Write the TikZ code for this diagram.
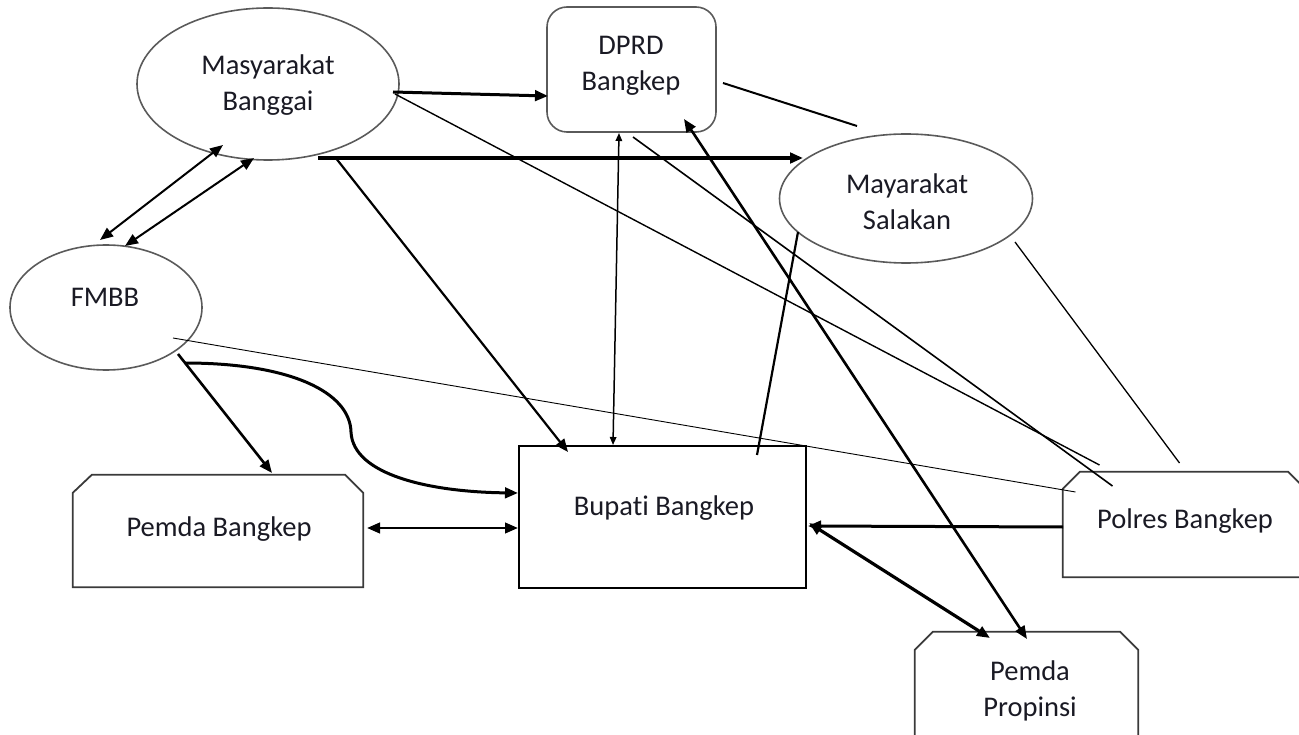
\documentclass[tikz,border=0pt]{standalone}
\usepackage{fontspec}
\setmainfont{Carlito}[RawFeature=-liga]
\usetikzlibrary{shapes.geometric,arrows.meta}
\definecolor{txt}{HTML}{1A1A24}
\definecolor{shapeline}{HTML}{5A5A5A}
\definecolor{boxline}{HTML}{3A3A3A}
\begin{document}
\begin{tikzpicture}[x=1pt,y=-1pt,
  ell/.style={draw=shapeline, line width=1.6pt, ellipse, inner sep=0pt},
  frame/.style={inner sep=0pt, draw=none},
  outline/.style={draw=boxline, line width=1.8pt, line join=miter},
  lbl/.style={text=txt, align=center, font=\fontsize{28.5}{36}\selectfont, inner sep=0pt},
  con/.style={draw=black},
  tip/.style={-{Triangle[length=13pt,width=10.5pt]}},
  dtip/.style={{Triangle[length=13pt,width=10.5pt]}-{Triangle[length=13pt,width=10.5pt]}},
  stip/.style={{Triangle[length=8pt,width=6.5pt]}-{Triangle[length=8pt,width=6.5pt]}}
]
\useasboundingbox (0,0) rectangle (1299,735);
\clip (0,0) rectangle (1299,735);

% shapes
\node[ell, minimum width=262pt, minimum height=152pt] (mb) at (268,84) {};
\node[draw=shapeline, line width=1.6pt, rounded corners=20pt, minimum width=169pt, minimum height=125pt] (dprd) at (631.5,69.5) {};
\node[ell, minimum width=253pt, minimum height=129pt] (ms) at (906,198.5) {};
\node[ell, minimum width=192pt, minimum height=125pt] (fmbb) at (106,307.5) {};
\node[draw=black, line width=2pt, minimum width=287pt, minimum height=142pt] (bup) at (662.5,517) {};

\node[frame, minimum width=290pt, minimum height=112pt] (pb) at (218,531) {};
\draw[outline] (pb.south west) -- ([shift={(0,18)}]pb.north west) -- ([shift={(19,0)}]pb.north west)
  -- ([shift={(-18,0)}]pb.north east) -- ([shift={(0,18)}]pb.north east) -- (pb.south east) -- cycle;

\node[frame, minimum width=242pt, minimum height=105pt] (pol) at (1184,524.5) {};
\draw[outline] (pol.south west) -- ([shift={(0,17)}]pol.north west) -- ([shift={(17,0)}]pol.north west)
  -- ([shift={(-17,0)}]pol.north east) -- ([shift={(0,17)}]pol.north east) -- (pol.south east) -- cycle;

\node[frame, minimum width=223pt, minimum height=116pt] (pp) at (1026.5,690) {};
\draw[outline] (pp.south west) -- ([shift={(0,18)}]pp.north west) -- ([shift={(18,0)}]pp.north west)
  -- ([shift={(-18,0)}]pp.north east) -- ([shift={(0,18)}]pp.north east) -- (pp.south east) -- cycle;

% labels
\node[lbl] (mbt) at (268,85) {Masyarakat\\Banggai};
\node[lbl] (dprdt) at (631,66) {DPRD\\Bangkep};
\node[lbl] (mst) at (907,201.5) {Mayarakat\\Salakan};
\node[lbl] (fmbbt) at (105,297.5) {FMBB};
\node[lbl] (pbt) at (219,529.5) {Pemda Bangkep};
\node[lbl] (bupt) at (664,508.5) {Bupati Bangkep};
\node[lbl] (polt) at (1185,521) {Polres Bangkep};
\node[lbl] (ppt) at (1030,691) {Pemda\\Propinsi};

% connectors
\draw[con, line width=3pt, tip] ([shift={(125,8)}]mb.center) -- ([shift={(-83.5,26.5)}]dprd.center);
\draw[con, line width=3.3pt, tip] ([shift={(50,74)}]mb.center) -- ([shift={(-103,-40.5)}]ms.center);
\draw[con, line width=2.2pt, tip] ([shift={(67,73)}]mb.center) -- ([shift={(-94.5,-65)}]bup.center);
\draw[con, line width=1.4pt] ([shift={(127,10)}]mb.center) -- ([shift={(-84.5,-59.5)}]pol.center);
\draw[con, line width=2pt, dtip] ([shift={(-6,-67.5)}]fmbb.center) -- ([shift={(-45,61)}]mb.center);
\draw[con, line width=2pt, dtip] ([shift={(19,-61.5)}]fmbb.center) -- ([shift={(-14,74)}]mb.center);

\draw[con, line width=1.5pt, stip] ([shift={(-12.5,63.5)}]dprd.center) -- ([shift={(-49.5,-72)}]bup.center);
\draw[con, line width=1.6pt] ([shift={(1.5,67.5)}]dprd.center) -- ([shift={(-71.5,-38.5)}]pol.center);
\draw[con, line width=2.6pt, dtip] ([shift={(52.5,49.5)}]dprd.center) -- ([shift={(0.5,-51)}]pp.center);
\draw[con, line width=2pt] ([shift={(91.5,13.5)}]dprd.center) -- ([shift={(-49,-72.5)}]ms.center);

\draw[con, line width=2.2pt] ([shift={(-108,33.5)}]ms.center) -- ([shift={(94.5,-62)}]bup.center);
\draw[con, line width=1.3pt] ([shift={(109,43.5)}]ms.center) -- ([shift={(-4.5,-61.5)}]pol.center);

\draw[con, line width=0.9pt] ([shift={(67,30.5)}]fmbb.center) -- ([shift={(-108.5,-32.5)}]pol.center);
\draw[con, line width=2.6pt, tip] ([shift={(72,46.5)}]fmbb.center) -- ([shift={(54,-58)}]pb.center);
\coordinate (bend) at (351,432);
\draw[con, line width=3pt, tip] ([shift={(79,55.5)}]fmbb.center) .. controls +(105,0) and +(-1,-40) .. (bend)
  .. controls +(2,43) and +(-88,-1) .. ([shift={(-144.5,-24)}]bup.center);

\draw[con, line width=2.6pt, dtip] ([shift={(149,-3)}]pb.center) -- ([shift={(-144.5,11)}]bup.center);
\draw[con, line width=3pt, tip] ([shift={(-121,2.5)}]pol.center) -- ([shift={(145.5,9)}]bup.center);
\draw[con, line width=3.2pt, dtip] ([shift={(146.5,6)}]bup.center) -- ([shift={(-36.5,-52)}]pp.center);
\end{tikzpicture}
\end{document}
